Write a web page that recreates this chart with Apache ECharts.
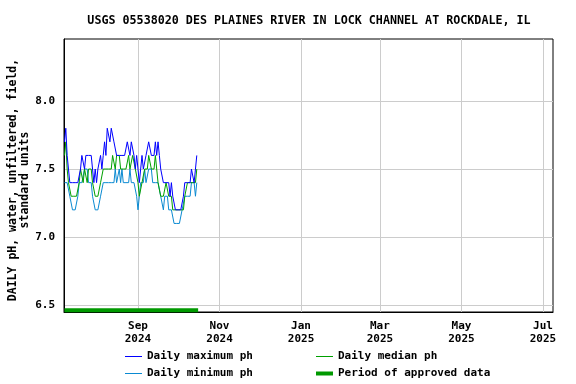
<!DOCTYPE html>
<html>
<head>
<meta charset="utf-8">
<script src="https://cdn.jsdelivr.net/npm/echarts@6/dist/echarts.min.js"></script>
<style>html,body{margin:0;padding:0;background:#fff;}#c{width:576px;height:384px;}</style>
</head>
<body>
<div id="c"></div>
<script>
// ---- data ----
var titleText = 'USGS 05538020 DES PLAINES RIVER IN LOCK CHANNEL AT ROCKDALE, IL';
var yAxisTitle = 'DAILY pH, water, unfiltered, field,\nstandard units';
var seriesNames = ['Daily maximum ph', 'Daily minimum ph', 'Daily median ph', 'Period of approved data'];
var firstDay = '2024-07-08';
var maxVals = [7.7,7.8,7.6,7.5,7.4,7.4,7.4,7.4,7.4,7.4,
  7.4,7.4,7.5,7.6,7.6,7.5,7.6,7.6,7.6,7.6,
  7.6,7.5,7.4,7.5,7.4,7.5,7.5,7.6,7.5,7.6,
  7.7,7.6,7.8,7.8,7.7,7.8,7.8,7.7,7.7,7.6,
  7.6,7.6,7.6,7.6,7.6,7.6,7.6,7.7,7.7,7.6,
  7.7,7.7,7.6,7.5,7.6,7.5,7.4,7.5,7.6,7.5,
  7.5,7.6,7.6,7.7,7.7,7.6,7.6,7.6,7.7,7.6,
  7.7,7.6,7.5,7.5,7.4,7.4,7.4,7.4,7.4,7.3,
  7.4,7.3,7.3,7.2,7.2,7.2,7.2,7.2,7.2,7.3,
  7.4,7.4,7.4,7.4,7.4,7.5,7.5,7.4,7.5,7.6];
var medVals = [7.6,7.7,7.5,7.4,7.4,7.3,7.3,7.3,7.3,7.3,
  7.3,7.4,7.5,7.5,7.4,7.5,7.5,7.4,7.5,7.5,
  7.5,7.4,7.4,7.3,7.3,7.3,7.3,7.4,7.4,7.5,
  7.5,7.5,7.5,7.5,7.5,7.5,7.6,7.6,7.5,7.6,
  7.6,7.6,7.5,7.5,7.5,7.5,7.5,7.5,7.6,7.5,
  7.5,7.6,7.6,7.5,7.5,7.4,7.3,7.3,7.4,7.4,
  7.5,7.5,7.5,7.6,7.6,7.5,7.5,7.5,7.6,7.6,
  7.4,7.4,7.3,7.3,7.3,7.3,7.4,7.4,7.3,7.3,
  7.3,7.2,7.2,7.2,7.2,7.2,7.2,7.2,7.2,7.2,
  7.3,7.3,7.4,7.4,7.4,7.4,7.4,7.4,7.4,7.5];
var minVals = [7.4,7.4,7.4,7.4,7.3,7.3,7.2,7.2,7.2,7.2,
  7.3,7.4,7.4,7.4,7.4,7.5,7.5,7.5,7.4,7.4,
  7.4,7.3,7.3,7.2,7.2,7.2,7.2,7.3,7.3,7.4,
  7.4,7.4,7.4,7.4,7.4,7.4,7.4,7.4,7.5,7.4,
  7.4,7.5,7.4,7.5,7.4,7.4,7.4,7.4,7.4,7.5,
  7.4,7.4,7.4,7.4,7.3,7.2,7.3,7.4,7.4,7.4,
  7.5,7.4,7.4,7.5,7.5,7.5,7.4,7.4,7.4,7.4,
  7.4,7.4,7.3,7.3,7.2,7.3,7.3,7.3,7.2,7.2,
  7.2,7.2,7.1,7.1,7.1,7.1,7.1,7.1,7.2,7.2,
  7.3,7.3,7.3,7.3,7.3,7.4,7.4,7.4,7.3,7.4];
var approvedPeriod = ['2024-07-08', '2024-10-16'];
var xTickDates = ['2024-09-01','2024-11-01','2025-01-01','2025-03-01','2025-05-01','2025-07-01'];
var xTickLabels = ['Sep\n2024','Nov\n2024','Jan\n2025','Mar\n2025','May\n2025','Jul\n2025'];
var yTickValues = [6.5, 7.0, 7.5, 8.0];
var xRange = ['2024-07-07T15:30:00Z', '2025-07-08T12:00:00Z'];
var yRange = [6.449, 8.456];

// ---- build ----
function ts(s) { return new Date(s.length === 10 ? s + 'T00:00:00Z' : s).getTime(); }
var day0 = ts(firstDay);
function pairs(vals) { return vals.map(function (v, i) { return [day0 + i * 86400000, v]; }); }
var xTicks = xTickDates.map(ts);
var approvedLevel = 6.462;

var FONT = 'DejaVu Sans Mono';
var txt = { fontFamily: FONT, fontWeight: 'bold', fontSize: 11, color: '#000' };
var colors = { max: '#0000ff', min: '#0a8ad2', med: '#00a000', appr: '#009900' };

function legendAt(name, left, top, h) {
  return {
    show: true, left: left, top: top, padding: 0, itemGap: 0,
    itemWidth: 17, itemHeight: h, icon: 'rect', selectedMode: false,
    data: [name], textStyle: txt
  };
}

var chart = echarts.init(document.getElementById('c'), null, { renderer: 'canvas' });
chart.setOption({
  animation: false,
  backgroundColor: '#fff',
  title: {
    text: titleText, left: 304, top: 10, textAlign: 'center',
    textStyle: { fontFamily: FONT, fontWeight: 'bold', fontSize: 11.7, color: '#000' }
  },
  grid: { left: 64, right: 23, top: 39, bottom: 72, show: true, borderColor: '#000', borderWidth: 1,
    containLabel: false, outerBoundsMode: 'none' },
  legend: [
    legendAt(seriesNames[0], 125, 351, 1),
    legendAt(seriesNames[2], 316, 351, 1),
    legendAt(seriesNames[1], 125, 368, 1),
    legendAt(seriesNames[3], 316, 368, 4)
  ],
  xAxis: {
    type: 'value', min: ts(xRange[0]), max: ts(xRange[1]),
    axisLine: { show: true, lineStyle: { color: '#000', width: 1 } },
    axisTick: { show: false, customValues: xTicks },
    splitLine: { show: true, lineStyle: { color: '#cccccc', width: 1 } },
    axisLabel: {
      customValues: xTicks, margin: 8, lineHeight: 13,
      fontFamily: FONT, fontWeight: 'bold', fontSize: 11, color: '#000',
      formatter: function (v) {
        var i = xTicks.indexOf(v);
        return i >= 0 ? xTickLabels[i] : '';
      }
    }
  },
  yAxis: {
    type: 'value', min: yRange[0], max: yRange[1],
    name: yAxisTitle, nameLocation: 'middle', nameGap: 33, nameRotate: 90, nameMoveOverlap: false,
    nameTextStyle: { fontFamily: FONT, fontWeight: 'bold', fontSize: 11.5, color: '#000', lineHeight: 12, padding: [0, 9, 0, 0] },
    axisLine: { show: true, lineStyle: { color: '#000', width: 1 } },
    axisTick: { show: false, customValues: yTickValues },
    splitLine: { show: true, lineStyle: { color: '#cccccc', width: 1 } },
    axisLabel: {
      customValues: yTickValues, margin: 9,
      fontFamily: FONT, fontWeight: 'bold', fontSize: 11, color: '#000',
      formatter: function (v) { return v.toFixed(1); }
    }
  },
  series: [
    { name: seriesNames[1], type: 'line', data: pairs(minVals), showSymbol: false, symbol: 'none',
      lineStyle: { color: colors.min, width: 1 }, itemStyle: { color: colors.min } },
    { name: seriesNames[2], type: 'line', data: pairs(medVals), showSymbol: false, symbol: 'none',
      lineStyle: { color: colors.med, width: 1 }, itemStyle: { color: colors.med } },
    { name: seriesNames[0], type: 'line', data: pairs(maxVals), showSymbol: false, symbol: 'none',
      lineStyle: { color: colors.max, width: 1 }, itemStyle: { color: colors.max } },
    { name: seriesNames[3], type: 'line', showSymbol: false, symbol: 'none',
      data: approvedPeriod.map(function (d) { return [ts(d), approvedLevel]; }),
      lineStyle: { color: colors.appr, width: 4 }, itemStyle: { color: colors.appr } }
  ]
});
</script>
</body>
</html>
